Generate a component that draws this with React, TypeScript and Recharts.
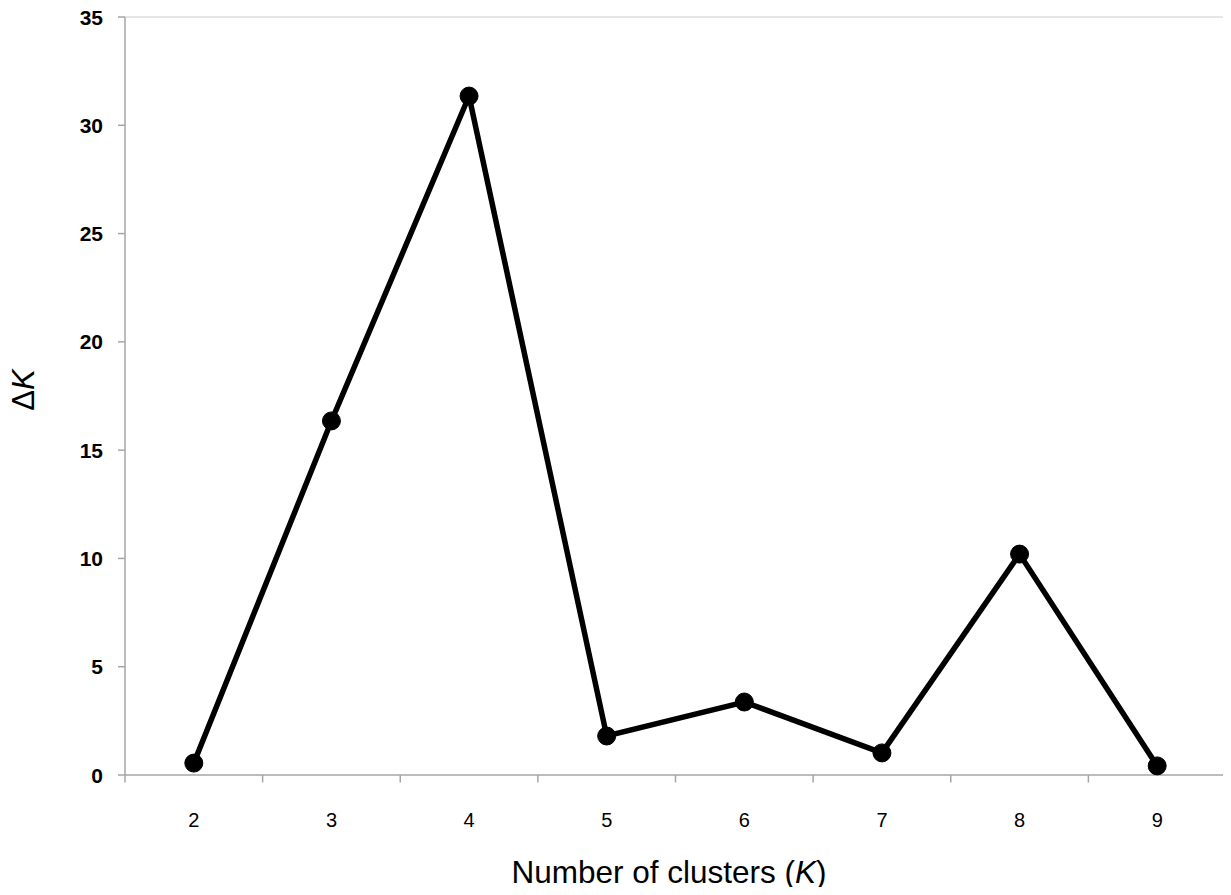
import React from "react";
import { LineChart, Line, XAxis, YAxis, ReferenceLine } from "recharts";

const clusters = [2, 3, 4, 5, 6, 7, 8, 9];
const deltaK = [0.55, 16.35, 31.35, 1.8, 3.37, 1.02, 10.2, 0.42];
const yTicks = [0, 5, 10, 15, 20, 25, 30, 35];
const xTicks = [1.5, 2, 2.5, 3, 3.5, 4, 4.5, 5, 5.5, 6, 6.5, 7, 7.5, 8, 8.5, 9, 9.5];

const data = clusters.map((k, i) => ({ k, dk: deltaK[i] }));

const FONT = "'Liberation Sans', Arial, sans-serif";

const XTick = (props: any) => {
  const { x, y, payload } = props;
  const v = payload.value;
  if (Number.isInteger(v)) {
    return (
      <text x={x} y={y + 44} textAnchor="middle" fontFamily={FONT} fontSize={20} fill="#000">
        {v}
      </text>
    );
  }
  return <line x1={x} x2={x} y1={y - 8} y2={y - 0.5} stroke="#a6a6a6" strokeWidth={1.5} />;
};

const YTick = (props: any) => {
  const { x, y, payload } = props;
  return (
    <text x={x - 13} y={y + 7.5} textAnchor="end" fontFamily={FONT} fontSize={21} fontWeight="bold" fill="#000">
      {payload.value}
    </text>
  );
};

export default function App() {
  return (
    <div style={{ margin: -8, width: 1231, height: 895, background: "#fff" }}>
      <LineChart width={1231} height={895} data={data} margin={{ top: 17, right: 5, bottom: 0, left: 0 }}>
        <XAxis
          dataKey="k"
          type="number"
          domain={[1.5, 9.5]}
          ticks={xTicks}
          interval={0}
          tick={<XTick />}
          tickLine={false}
          axisLine={{ stroke: "#a6a6a6", strokeWidth: 1.5 }}
          height={120}
          allowDataOverflow
        />
        <YAxis
          domain={[0, 35]}
          ticks={yTicks}
          interval={0}
          width={125}
          tick={<YTick />}
          tickSize={7}
          tickLine={{ stroke: "#a6a6a6", strokeWidth: 1.5 }}
          axisLine={{ stroke: "#a6a6a6", strokeWidth: 1.5 }}
        />
        <ReferenceLine y={35} stroke="#cccccc" strokeWidth={1} />
        <ReferenceLine x={9.5} stroke="#cccccc" strokeWidth={1} />
        <Line
          dataKey="dk"
          stroke="#000"
          strokeWidth={5.5}
          dot={{ r: 9, fill: "#000", stroke: "#000", strokeWidth: 1 }}
          isAnimationActive={false}
        />
        <text x={669} y={883} textAnchor="middle" fontFamily={FONT} fontSize={31.5} fill="#000">
          Number of clusters (<tspan fontStyle="italic">K</tspan>)
        </text>
        <text
          x={34}
          y={390}
          textAnchor="middle"
          fontFamily={FONT}
          fontSize={31}
          fill="#000"
          transform="rotate(-90 34 390)"
        >
          Δ<tspan fontStyle="italic">K</tspan>
        </text>
      </LineChart>
    </div>
  );
}
